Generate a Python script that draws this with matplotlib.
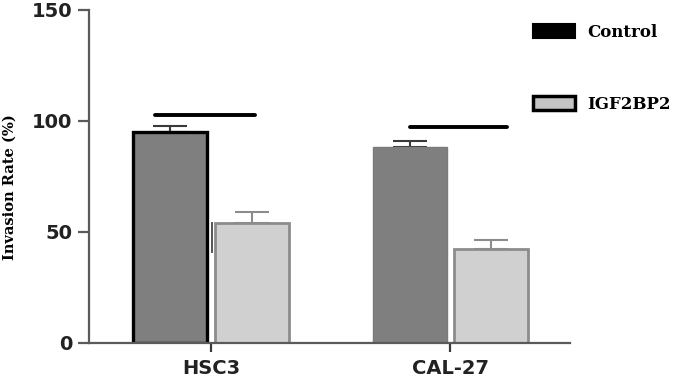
import numpy as np
import matplotlib
matplotlib.use("Agg")
import matplotlib.pyplot as plt
from matplotlib.patches import Patch

# === Data ===
groups = ["HSC3", "CAL-27"]
control_mean = [95, 88]
control_err = [2.5, 2.7]
igf_mean = [54, 42.5]
igf_err = [5, 4]

# significance bars: (x start, x end, y) in data units
sig_x0 = [-0.235, 0.833]
sig_x1 = [0.185, 1.238]
sig_y = [102.5, 97]

x = np.arange(len(groups))
width = 0.31
offset = 0.17

fig = plt.figure(figsize=(6.85, 3.8), dpi=100)
ax = fig.add_axes([0.130, 0.0974, 0.702, 0.877])

ctrl_edges = ["black", "#7a7a7a"]
ctrl_lw = [2.4, 1.0]
for i in range(len(groups)):
    ax.bar(x[i] - offset, control_mean[i], width, color="#7f7f7f",
           edgecolor=ctrl_edges[i], linewidth=ctrl_lw[i], zorder=2)
    ax.errorbar(x[i] - offset, control_mean[i], yerr=[[0], [control_err[i]]],
                fmt="none", ecolor="#3a3a3a", elinewidth=1.5, capsize=12,
                capthick=1.5, zorder=1)
    ax.bar(x[i] + offset, igf_mean[i], width, color="#d0d0d0",
           edgecolor="#8c8c8c", linewidth=2.0, zorder=2)
    ax.errorbar(x[i] + offset, igf_mean[i], yerr=[[0], [igf_err[i]]],
                fmt="none", ecolor="#8c8c8c", elinewidth=1.5, capsize=12,
                capthick=1.5, zorder=1)
    ax.plot([sig_x0[i], sig_x1[i]], [sig_y[i], sig_y[i]], color="black",
            linewidth=2.8, solid_capstyle="round", zorder=3)

# stray mark left of the HSC3 IGF2BP2 bar
ax.plot([0.004, 0.004], [41, 54], color="#555555", linewidth=1.4, zorder=3)

ax.set_xlim(-0.51, 1.50)
ax.set_ylim(0, 150)
ax.set_yticks([0, 50, 100, 150])
ax.set_xticks(x)
ax.set_xticklabels(groups)

for s in ["top", "right"]:
    ax.spines[s].set_visible(False)
for s in ["left", "bottom"]:
    ax.spines[s].set_color("#5a5a5a")
    ax.spines[s].set_linewidth(1.6)

ax.tick_params(axis="y", length=8, width=1.6, color="#5a5a5a", pad=4)
ax.tick_params(axis="x", length=6.5, width=1.6, color="#3a3a3a", pad=5)
for lab in ax.get_yticklabels() + ax.get_xticklabels():
    lab.set_fontfamily("DejaVu Sans")
    lab.set_fontweight("bold")
    lab.set_fontsize(14)
    lab.set_color("#222222")

ax.set_ylabel("Invasion Rate (%)", fontfamily="DejaVu Serif",
              fontweight="bold", fontsize=10.5)
ax.yaxis.set_label_coords(-0.150, 0.468)

handles = [Patch(facecolor="black", edgecolor="black", linewidth=1.5),
           Patch(facecolor="#c4c4c4", edgecolor="black", linewidth=2.5)]
leg = fig.legend(handles, ["Control", "IGF2BP2"], loc="upper left",
                 bbox_to_anchor=(0.778, 0.938), frameon=False,
                 prop={"family": "DejaVu Serif", "weight": "bold", "size": 12},
                 handlelength=2.5, handleheight=0.9, labelspacing=3.3,
                 handletextpad=0.75, borderpad=0, borderaxespad=0)

fig.savefig("out.png", dpi=100)
